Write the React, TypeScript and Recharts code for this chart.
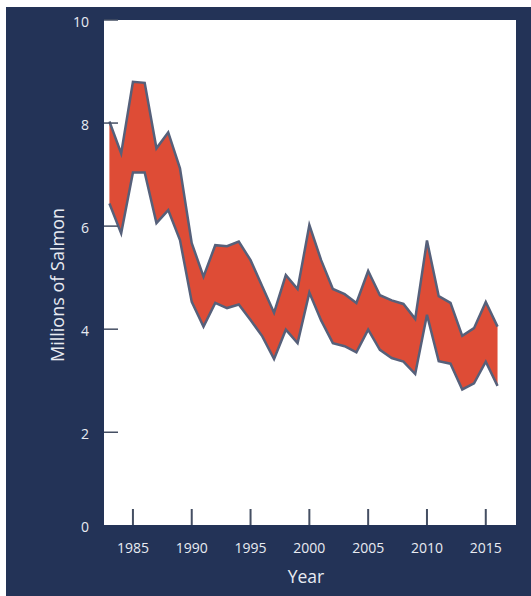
import { AreaChart, Area, XAxis, YAxis, Label } from "recharts";

// annual estimate range, millions of salmon
const years = [
  1983, 1984, 1985, 1986, 1987, 1988, 1989, 1990, 1991, 1992, 1993, 1994,
  1995, 1996, 1997, 1998, 1999, 2000, 2001, 2002, 2003, 2004, 2005, 2006,
  2007, 2008, 2009, 2010, 2011, 2012, 2013, 2014, 2015, 2016,
];
const low = [
  6.44, 5.86, 7.04, 7.04, 6.06, 6.31, 5.73, 4.53, 4.05, 4.51, 4.41, 4.48,
  4.18, 3.86, 3.42, 3.99, 3.73, 4.71, 4.17, 3.73, 3.67, 3.55, 3.99, 3.6,
  3.44, 3.37, 3.13, 4.28, 3.38, 3.33, 2.83, 2.95, 3.37, 2.9,
];
const high = [
  8.03, 7.41, 8.8, 8.78, 7.51, 7.82, 7.12, 5.67, 5.02, 5.63, 5.61, 5.7,
  5.34, 4.83, 4.32, 5.05, 4.78, 6.02, 5.34, 4.78, 4.68, 4.51, 5.13, 4.66,
  4.56, 4.49, 4.2, 5.72, 4.64, 4.51, 3.87, 4.02, 4.53, 4.05,
];
const xTicks = [1985, 1990, 1995, 2000, 2005, 2010, 2015];
const yTicks = [0, 2, 4, 6, 8, 10];

const yMin = 0.2; // bottom edge sits a little above zero in the original
const xDomain = [1982.54, 2017.57];

const data = years.map((year, i) => ({ year, range: [low[i], high[i]] }));

const NAVY = "#233357";
const TEXT = "#e8ebf2";
const TICK = "#454f63";
const FONT = "'Open Sans', sans-serif";

const W = 525, H = 589;
const M = { top: 13, right: 15, left: 0, bottom: 0 };
const Y_W = 98, X_H = 71;
const PLOT_BOTTOM = H - X_H - M.bottom;

// tick marks point into the plot, labels sit below it
function XTick(props: any) {
  const x = Number(props.x);
  return (
    <g>
      <rect x={x - 1} y={PLOT_BOTTOM - 16} width={2} height={16} fill={TICK} />
      <text x={x} y={PLOT_BOTTOM + 22} textAnchor="middle" dominantBaseline="central"
        fill={TEXT} fontSize={14} fontFamily={FONT}>
        {props.payload.value}
      </text>
    </g>
  );
}

function YTick({ x, y, payload }: any) {
  return (
    <g>
      {payload.value > yMin && (
        <line x1={x} x2={x + 14} y1={y} y2={y} stroke={TICK} strokeWidth={1.5} />
      )}
      <text x={x - 15} y={y + 1} textAnchor="end" dominantBaseline="central"
        fill={TEXT} fontSize={14} fontFamily={FONT}>
        {Math.round(payload.value)}
      </text>
    </g>
  );
}

export default function App() {
  return (
    <div style={{ position: "absolute", left: 6, top: 7, width: W, height: H, background: NAVY }}>
      {/* white plot panel behind the svg */}
      <div style={{
        position: "absolute", left: M.left + Y_W, top: M.top,
        width: W - M.left - Y_W - M.right, height: H - M.top - X_H - M.bottom,
        background: "#fff",
      }} />
      <div style={{ position: "absolute", left: 0, top: 0 }}>
        <AreaChart width={W} height={H} data={data} margin={M}>
          <XAxis
            dataKey="year"
            type="number"
            domain={xDomain}
            ticks={xTicks}
            allowDataOverflow
            height={X_H}
            axisLine={false}
            tickLine={false}
            tickSize={0}
            tickMargin={0}
            tick={<XTick />}
          >
            <Label content={({ viewBox }: any) => (
              <text x={viewBox.x + viewBox.width / 2 - 4} y={569} textAnchor="middle"
                dominantBaseline="central" fill={TEXT} fontSize={17.5} fontFamily={FONT}>
                Year
              </text>
            )} />
          </XAxis>
          <YAxis
            type="number"
            domain={[yMin, 10]}
            ticks={yTicks.map(t => Math.max(t, yMin))}
            allowDataOverflow
            width={Y_W}
            axisLine={false}
            tickLine={false}
            tickSize={0}
            tickMargin={0}
            tick={<YTick />}
          >
            <Label content={() => (
              <text x={51} y={278} transform="rotate(-90 51 278)" textAnchor="middle"
                dominantBaseline="central" fill={TEXT} fontSize={18} fontFamily={FONT}>
                Millions of Salmon
              </text>
            )} />
          </YAxis>
          <Area
            type="linear"
            dataKey="range"
            stroke="#56607a"
            strokeWidth={2.5}
            fill="#de4c36"
            fillOpacity={1}
            isAnimationActive={false}
          />
        </AreaChart>
      </div>
    </div>
  );
}
